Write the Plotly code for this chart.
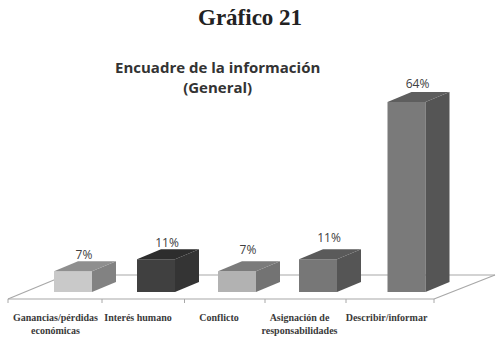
import plotly.graph_objects as go

# Data
categories = ["Ganancias/pérdidas<br>económicas", "Interés humano", "Conflicto",
              "Asignación de<br>responsabilidades", "Describir/informar"]
values = [7, 11, 7, 11, 64]
labels = ["7%", "11%", "7%", "11%", "64%"]

# Layout geometry (px on x axis, percent units on y axis)
W, H = 498, 342
BASE_PX = 292
PX_PER_PCT = 2.97
def py(px):
    return (BASE_PX - px) / PX_PER_PCT

bar_centers = [73, 156, 237, 318, 406.5]
bar_width = 38
depth_x = 24
depth_y = 10 / PX_PER_PCT
label_centers = [55.5, 138, 219, 299.5, 386.5]
label_lift = [0, 0, 1.4, 1.7, 0.4]
tick_pos = [8, 102, 184.5, 265, 346, 434]

front = ["#c9c9c9", "#404040", "#b2b2b2", "#777777", "#7a7a7a"]
side = ["#828282", "#343434", "#737373", "#555555", "#555555"]
top = ["#8f8f8f", "#2d2d2d", "#7b7b7b", "#5a5a5a", "#5e5e5e"]
LINE = "#a8a8a8"
TEXT = "#3a3a3a"

fig = go.Figure()

# Front faces
fig.add_trace(go.Bar(x=bar_centers, y=values, width=bar_width, marker_color=front,
                     marker_line_width=0, showlegend=False, hoverinfo="skip"))

# Side and top faces, derived from each value
for c, v, s, t in zip(bar_centers, values, side, top):
    l, r = c - bar_width / 2, c + bar_width / 2
    fig.add_trace(go.Scatter(
        x=[r, r + depth_x, r + depth_x, r, r], y=[0, depth_y, v + depth_y, v, 0],
        fill="toself", fillcolor=s, mode="lines", line=dict(width=0),
        showlegend=False, hoverinfo="skip"))
    fig.add_trace(go.Scatter(
        x=[l, r, r + depth_x, l + depth_x, l], y=[v, v, v + depth_y, v + depth_y, v],
        fill="toself", fillcolor=t, mode="lines", line=dict(width=0),
        showlegend=False, hoverinfo="skip"))

# Data labels
fig.add_trace(go.Scatter(
    x=[c + 11 for c in bar_centers],
    y=[v + depth_y - 0.1 + d for v, d in zip(values, label_lift)],
    text=labels, mode="text", textposition="top center",
    textfont=dict(family="Open Sans", size=12, color="#404040"),
    showlegend=False, hoverinfo="skip", cliponaxis=False))

# Floor (behind the bars) and ticks
floor_segments = [
    (tick_pos[0], 299, tick_pos[-1], 299),
    (tick_pos[0], 299, 66, 275),
    (66, 275, 495, 275),
    (tick_pos[-1], 299, 495, 275),
]
shapes = [dict(type="line", layer="below", xref="x", yref="y",
               x0=a, y0=py(b), x1=c, y1=py(d), line=dict(color=LINE, width=1.2))
          for a, b, c, d in floor_segments]
shapes += [dict(type="line", layer="below", xref="x", yref="y",
                x0=t, y0=py(299), x1=t, y1=py(303), line=dict(color=LINE, width=1))
           for t in tick_pos]

fig.update_layout(
    width=W, height=H, margin=dict(l=0, r=0, t=0, b=0),
    paper_bgcolor="white", plot_bgcolor="white", shapes=shapes, showlegend=False,
    xaxis=dict(range=[0, W], domain=[0, 1], anchor="free", position=1 - 299 / H,
               showgrid=False, zeroline=False, showline=False,
               ticks="outside", ticklen=9, tickcolor="rgba(0,0,0,0)",
               tickmode="array", tickvals=label_centers, ticktext=categories,
               tickangle=0,
               tickfont=dict(family="Liberation Serif", size=10, color=TEXT, weight="bold")),
    yaxis=dict(range=[py(H), py(0)], domain=[0, 1], visible=False),
    annotations=[
        dict(text="Gráfico 21", xref="paper", yref="paper", x=250 / W, y=1 - 18 / H,
             showarrow=False, xanchor="center", yanchor="middle",
             font=dict(family="Liberation Serif", size=23, color="#222222", weight="bold")),
        dict(text="Encuadre de la información<br>(General)", xref="paper", yref="paper",
             x=217 / W, y=1 - 77 / H, showarrow=False, xanchor="center", yanchor="middle",
             font=dict(family="Open Sans", size=15, color="#333333", weight="bold")),
    ],
)

fig.write_html("out.html", config=dict(displayModeBar=False),
               post_script="document.body.style.margin='0';document.body.style.overflow='hidden';")
